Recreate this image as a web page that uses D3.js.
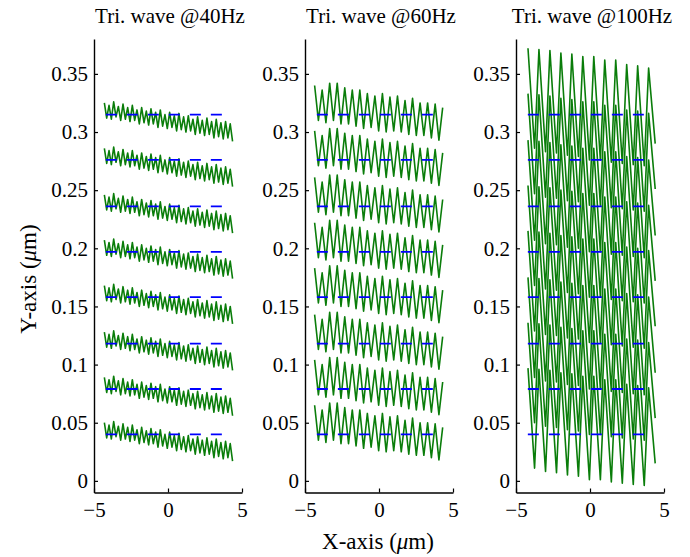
<!DOCTYPE html>
<html>
<head>
<meta charset="utf-8">
<script src="https://cdn.jsdelivr.net/npm/d3@7"></script>
<style>
  body { margin: 0; background: #fff; }
  svg text { font-family: "Liberation Serif", "Times New Roman", serif; fill: #000; }
</style>
</head>
<body>
<div id="chart"></div>
<script>
// Reference scan line levels (um), shared by all three panels.
const levels = [0.040, 0.079, 0.118, 0.158, 0.197, 0.236, 0.276, 0.315];
const yTicks = [0, 0.05, 0.1, 0.15, 0.2, 0.25, 0.3, 0.35];
const xTicks = [-5, 0, 5];
const titles = ["Tri. wave @40Hz", "Tri. wave @60Hz", "Tri. wave @100Hz"];

// Dashed reference segment extent (um).
const refStart = -4.2;
const refEnd = 4.2;

// Peak / trough offsets from a line's level (um), read left to right.
const peaks40 = [0.010, 0.008, 0.011, 0.007, 0.009, 0.006, 0.008, 0.004, 0.006, 0.003,
                 0.005, 0.002, 0.004, 0.000, 0.002, -0.001, 0.001, -0.002, -0.001, -0.004,
                 -0.002, -0.005, -0.003, -0.006, -0.004, -0.007, -0.006, -0.008];
const troughs40 = [-0.003, -0.004, -0.002, -0.005, -0.004, -0.006, -0.005, -0.008, -0.007, -0.009,
                   -0.008, -0.011, -0.010, -0.012, -0.011, -0.014, -0.013, -0.015, -0.014, -0.017,
                   -0.016, -0.018, -0.017, -0.020, -0.019, -0.021, -0.020, -0.023];

const peaks60 = [0.025, 0.021, 0.027, 0.027, 0.023, 0.021, 0.021, 0.018, 0.016, 0.018,
                 0.015, 0.016, 0.012, 0.014, 0.010, 0.010, 0.009, 0.006];
const troughs60 = [-0.005, -0.007, -0.005, -0.008, -0.008, -0.010, -0.012, -0.011, -0.014,
                   -0.015, -0.014, -0.015, -0.017, -0.018, -0.018, -0.020, -0.022];

const peaks100 = [0.057, 0.056, 0.055, 0.053, 0.052, 0.050, 0.050, 0.047, 0.047, 0.043, 0.042, 0.040];
const troughs100 = [-0.029, -0.032, -0.033, -0.035, -0.036, -0.039, -0.039, -0.041, -0.042,
                    -0.043, -0.044, -0.025];

// Scan start (um), oscillation period (um) and falling share of a cycle.
const scans = [
  { start: -4.30, period: 0.315, fall: 0.5, peaks: peaks40, troughs: troughs40 },
  { start: -4.35, period: 0.509, fall: 0.5, peaks: peaks60, troughs: troughs60 },
  { start: -4.19, period: 0.741, fall: 0.6, peaks: peaks100, troughs: troughs100 }
];

const width = 690, height = 557;
const panelLeft = [94, 305, 516];
const panelWidth = 148;
const fontFamily = "'Liberation Serif', 'Times New Roman', serif";

const svg = d3.select("#chart").append("svg")
  .attr("width", width)
  .attr("height", height);

const y = d3.scaleLinear().domain([-0.01, 0.38]).range([492.5, 39]);

scans.forEach((scan, i) => {
  const x = d3.scaleLinear().domain([-5, 5]).range([panelLeft[i], panelLeft[i] + panelWidth]);
  const g = svg.append("g");

  // Build the vertex list of one scan line (offsets only).
  const pts = [];
  scan.peaks.forEach((pk, j) => {
    pts.push([scan.start + j * scan.period, pk]);
    if (j < scan.troughs.length) {
      pts.push([scan.start + (j + scan.fall) * scan.period, scan.troughs[j]]);
    }
  });

  const line = d3.line().x(d => x(d[0])).y(d => y(d[1]));

  // Green measured trajectories.
  g.selectAll("path.trace")
    .data(levels)
    .enter()
    .append("path")
    .attr("class", "trace")
    .attr("d", lv => line(pts.map(d => [d[0], lv + d[1]])))
    .attr("fill", "none")
    .attr("stroke", "#0a7d0a")
    .attr("stroke-width", 1.6)
    .attr("stroke-linejoin", "round");

  // Blue dashed reference lines.
  g.selectAll("line.ref")
    .data(levels)
    .enter()
    .append("line")
    .attr("class", "ref")
    .attr("x1", x(refStart))
    .attr("x2", x(refEnd))
    .attr("y1", d => y(d))
    .attr("y2", d => y(d))
    .attr("stroke", "#0000ff")
    .attr("stroke-width", 1.8)
    .attr("stroke-dasharray", "11,10");

  // Y axis.
  const yAxis = g.append("g")
    .attr("transform", `translate(${panelLeft[i]},0)`)
    .call(d3.axisLeft(y).tickValues(yTicks).tickSize(-4).tickSizeOuter(0).tickPadding(6)
      .tickFormat(d => String(+d.toFixed(2))));

  // X axis.
  const xAxis = g.append("g")
    .attr("transform", `translate(0,${y.range()[0]})`)
    .call(d3.axisBottom(x).tickValues(xTicks).tickSize(-4).tickSizeOuter(0).tickPadding(10));

  [yAxis, xAxis].forEach(ax => {
    ax.attr("font-family", null).attr("font-size", null);
    ax.selectAll(".tick text")
      .style("font-family", fontFamily)
      .style("font-size", "21px");
    ax.select(".domain").attr("stroke-width", 1.4);
    ax.selectAll(".tick line").attr("stroke-width", 1.2);
  });

  // Panel title.
  svg.append("text")
    .attr("x", (x(-5) + x(5)) / 2 + 2)
    .attr("y", 23)
    .attr("text-anchor", "middle")
    .style("font-size", "21px")
    .text(titles[i]);
});

// Axis labels.
const xLabel = svg.append("text")
  .attr("x", 378)
  .attr("y", 549)
  .attr("text-anchor", "middle")
  .style("font-size", "23px");
xLabel.append("tspan").text("X-axis (");
xLabel.append("tspan").style("font-style", "italic").text("\u03bc");
xLabel.append("tspan").text("m)");

const yLabel = svg.append("text")
  .attr("transform", "translate(36,279) rotate(-90)")
  .attr("text-anchor", "middle")
  .style("font-size", "23px");
yLabel.append("tspan").text("Y-axis (");
yLabel.append("tspan").style("font-style", "italic").text("\u03bc");
yLabel.append("tspan").text("m)");
</script>
</body>
</html>
